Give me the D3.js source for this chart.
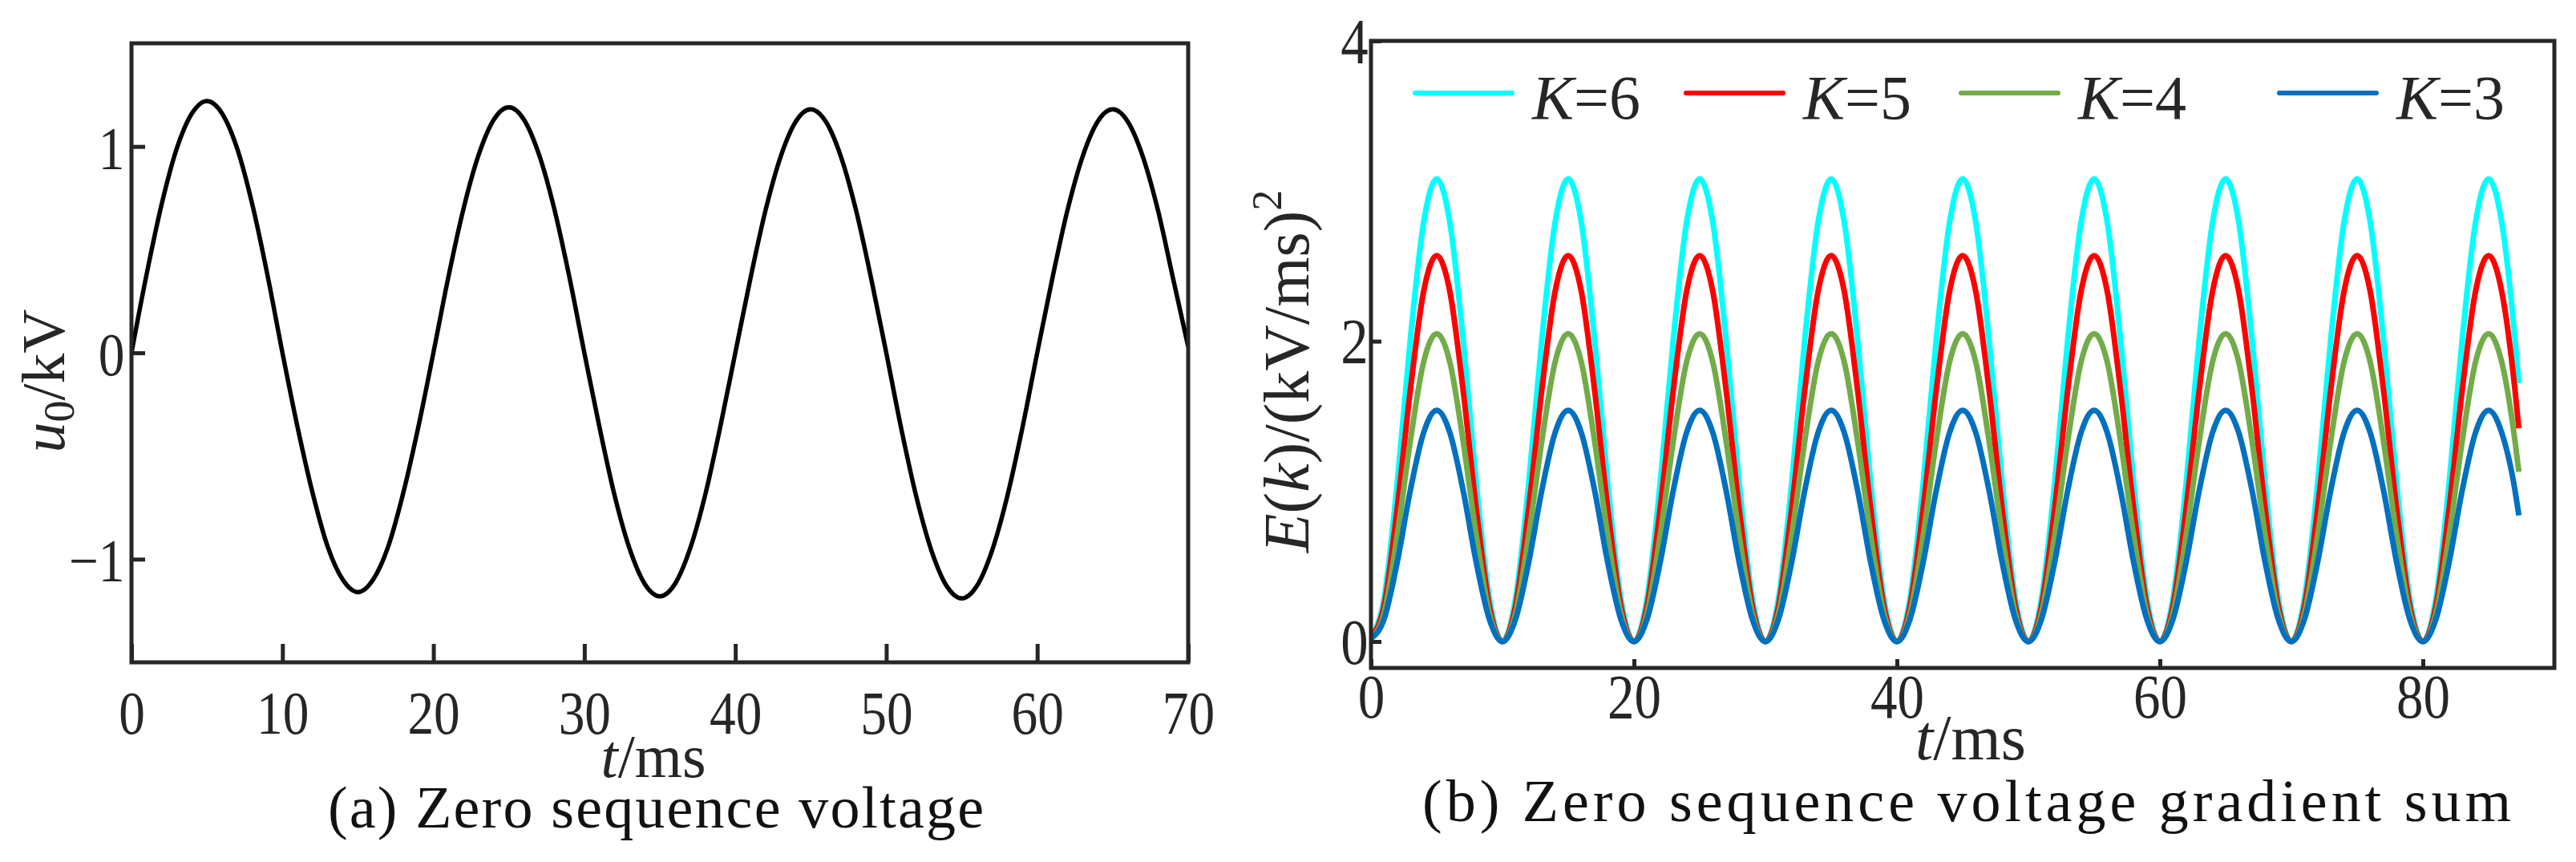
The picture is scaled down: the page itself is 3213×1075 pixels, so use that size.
<!DOCTYPE html>
<html>
<head>
<meta charset="utf-8">
<script src="https://cdn.jsdelivr.net/npm/d3@7"></script>
<style>
  body { margin: 0; background: #fff; }
  text { font-family: "Liberation Serif", "DejaVu Serif", serif; fill: #262626; }
</style>
</head>
<body>
<svg id="chart" width="3213" height="1075"></svg>
<script>
// (a) zero sequence voltage, sampled every 1 ms
var tLeft = d3.range(0, 71);
var u0 = [0, 0.38, 0.72, 0.99, 1.16, 1.22, 1.16, 0.99, 0.72, 0.38,
  0, -0.36, -0.68, -0.94, -1.10, -1.16, -1.10, -0.94, -0.68, -0.36,
  0, 0.37, 0.70, 0.96, 1.13, 1.19, 1.13, 0.96, 0.70, 0.37,
  0, -0.36, -0.69, -0.95, -1.12, -1.18, -1.12, -0.95, -0.69, -0.36,
  0, 0.36, 0.69, 0.95, 1.12, 1.18, 1.12, 0.95, 0.69, 0.36,
  0, -0.37, -0.70, -0.96, -1.13, -1.19, -1.13, -0.96, -0.70, -0.37,
  0, 0.36, 0.69, 0.95, 1.12, 1.18, 1.12, 0.95, 0.69, 0.36,
  0.03];
var leftXTicks = [0, 10, 20, 30, 40, 50, 60, 70];
var leftYTicks = [-1, 0, 1];

// (b) gradient sum E(k), sampled every 1 ms up to the last point at 87.3 ms
var tRight = d3.range(0, 88).concat([87.3]);
var eK6 = [0.03, 0.29, 1.06, 2.02, 2.79, 3.08, 2.79, 2.02, 1.06, 0.29,
  0, 0.29, 1.06, 2.02, 2.79, 3.08, 2.79, 2.02, 1.06, 0.29,
  0, 0.29, 1.06, 2.02, 2.79, 3.08, 2.79, 2.02, 1.06, 0.29,
  0, 0.29, 1.06, 2.02, 2.79, 3.08, 2.79, 2.02, 1.06, 0.29,
  0, 0.29, 1.06, 2.02, 2.79, 3.08, 2.79, 2.02, 1.06, 0.29,
  0, 0.29, 1.06, 2.02, 2.79, 3.08, 2.79, 2.02, 1.06, 0.29,
  0, 0.29, 1.06, 2.02, 2.79, 3.08, 2.79, 2.02, 1.06, 0.29,
  0, 0.29, 1.06, 2.02, 2.79, 3.08, 2.79, 2.02, 1.06, 0.29,
  0, 0.29, 1.06, 2.02, 2.79, 3.08, 2.79, 2.02, 1.72];
var eK5 = [0.03, 0.24, 0.89, 1.68, 2.33, 2.57, 2.33, 1.68, 0.89, 0.24,
  0, 0.24, 0.89, 1.68, 2.33, 2.57, 2.33, 1.68, 0.89, 0.24,
  0, 0.24, 0.89, 1.68, 2.33, 2.57, 2.33, 1.68, 0.89, 0.24,
  0, 0.24, 0.89, 1.68, 2.33, 2.57, 2.33, 1.68, 0.89, 0.24,
  0, 0.24, 0.89, 1.68, 2.33, 2.57, 2.33, 1.68, 0.89, 0.24,
  0, 0.24, 0.89, 1.68, 2.33, 2.57, 2.33, 1.68, 0.89, 0.24,
  0, 0.24, 0.89, 1.68, 2.33, 2.57, 2.33, 1.68, 0.89, 0.24,
  0, 0.24, 0.89, 1.68, 2.33, 2.57, 2.33, 1.68, 0.89, 0.24,
  0, 0.24, 0.89, 1.68, 2.33, 2.57, 2.33, 1.68, 1.42];
var eK4 = [0.02, 0.19, 0.71, 1.34, 1.86, 2.05, 1.86, 1.34, 0.71, 0.19,
  0, 0.19, 0.71, 1.34, 1.86, 2.05, 1.86, 1.34, 0.71, 0.19,
  0, 0.19, 0.71, 1.34, 1.86, 2.05, 1.86, 1.34, 0.71, 0.19,
  0, 0.19, 0.71, 1.34, 1.86, 2.05, 1.86, 1.34, 0.71, 0.19,
  0, 0.19, 0.71, 1.34, 1.86, 2.05, 1.86, 1.34, 0.71, 0.19,
  0, 0.19, 0.71, 1.34, 1.86, 2.05, 1.86, 1.34, 0.71, 0.19,
  0, 0.19, 0.71, 1.34, 1.86, 2.05, 1.86, 1.34, 0.71, 0.19,
  0, 0.19, 0.71, 1.34, 1.86, 2.05, 1.86, 1.34, 0.71, 0.19,
  0, 0.19, 0.71, 1.34, 1.86, 2.05, 1.86, 1.34, 1.13];
var eK3 = [0.02, 0.15, 0.53, 1.01, 1.39, 1.54, 1.39, 1.01, 0.53, 0.15,
  0, 0.15, 0.53, 1.01, 1.39, 1.54, 1.39, 1.01, 0.53, 0.15,
  0, 0.15, 0.53, 1.01, 1.39, 1.54, 1.39, 1.01, 0.53, 0.15,
  0, 0.15, 0.53, 1.01, 1.39, 1.54, 1.39, 1.01, 0.53, 0.15,
  0, 0.15, 0.53, 1.01, 1.39, 1.54, 1.39, 1.01, 0.53, 0.15,
  0, 0.15, 0.53, 1.01, 1.39, 1.54, 1.39, 1.01, 0.53, 0.15,
  0, 0.15, 0.53, 1.01, 1.39, 1.54, 1.39, 1.01, 0.53, 0.15,
  0, 0.15, 0.53, 1.01, 1.39, 1.54, 1.39, 1.01, 0.53, 0.15,
  0, 0.15, 0.53, 1.01, 1.39, 1.54, 1.39, 1.01, 0.84];
var seriesNames = ["6", "5", "4", "3"];
var seriesColors = ["#00ffff", "#ff0000", "#72ac48", "#0070c0"];
var rightXTicks = [0, 20, 40, 60, 80];
var rightYTicks = [0, 2, 4];

var svg = d3.select("#chart");
var axisColor = "#262626";

// tick labels in the picture are a bit narrower than plain Times
function squeezeTicks(g) {
  g.select(".domain").remove();
  g.selectAll(".tick line").attr("stroke", axisColor).attr("stroke-width", 5);
  g.selectAll(".tick text").attr("fill", axisColor).attr("transform", "scale(0.86,1)");
}

//---------------- (a) ----------------
var xa = d3.scaleLinear().domain([0, 70]).range([164, 1482]);
var ya = d3.scaleLinear().domain([-1.5, 1.5]).range([826, 54]);

var defs = svg.append("defs");
defs.append("clipPath").attr("id", "clipA")
  .append("rect").attr("x", 164).attr("y", 54).attr("width", 1318).attr("height", 772);
defs.append("clipPath").attr("id", "clipB")
  .append("rect").attr("x", 1710).attr("y", 51).attr("width", 1476).attr("height", 782);

svg.append("g")
  .attr("transform", "translate(0," + ya.range()[0] + ")")
  .style("font-size", "76px")
  .call(d3.axisBottom(xa).tickValues(leftXTicks).tickSizeInner(-23).tickSizeOuter(0))
  .call(squeezeTicks)
  .selectAll(".tick text").attr("y", 89).attr("dy", null);

svg.append("g")
  .attr("transform", "translate(" + xa.range()[0] + ",0)")
  .style("font-size", "76px")
  .call(d3.axisLeft(ya).tickValues(leftYTicks).tickSizeInner(-17).tickSizeOuter(0).tickFormat(d3.format("d")))
  .call(squeezeTicks)
  .selectAll(".tick text").attr("x", -10).attr("dy", "0.36em")
  .text(d => d < 0 ? "\u2212" + Math.abs(d) : d);

var lineA = d3.line().x((d, i) => xa(tLeft[i])).y(d => ya(d)).curve(d3.curveMonotoneX);
svg.append("path")
  .attr("d", lineA(u0))
  .attr("clip-path", "url(#clipA)")
  .attr("fill", "none").attr("stroke", "#000").attr("stroke-width", 5.5);

svg.append("rect")
  .attr("x", 164).attr("y", 54).attr("width", 1318).attr("height", 772)
  .attr("fill", "none").attr("stroke", axisColor).attr("stroke-width", 5);

// y label u0/kV
var ylA = svg.append("text")
  .attr("transform", "translate(80,475) rotate(-90)")
  .attr("text-anchor", "middle").style("font-size", "76px");
ylA.append("tspan").style("font-style", "italic").text("u");
ylA.append("tspan").attr("dy", 12).style("font-size", "54px").text("0");
ylA.append("tspan").attr("dy", -12).text("/kV");

var xlA = svg.append("text").attr("x", 815).attr("y", 969)
  .attr("text-anchor", "middle").style("font-size", "76px");
xlA.append("tspan").style("font-style", "italic").text("t");
xlA.append("tspan").text("/ms");

svg.append("text").attr("x", 409).attr("y", 1032)
  .attr("textLength", 818).attr("lengthAdjust", "spacing")
  .style("font-size", "74px").style("fill", "#111")
  .text("(a) Zero sequence voltage");

//---------------- (b) ----------------
var xb = d3.scaleLinear().domain([0, 90]).range([1710, 3186]);
var yb = d3.scaleLinear().domain([-0.176, 4]).range([833, 51]);

svg.append("g")
  .attr("transform", "translate(0," + yb.range()[0] + ")")
  .style("font-size", "78px")
  .call(d3.axisBottom(xb).tickValues(rightXTicks).tickSizeInner(-11).tickSizeOuter(0))
  .call(squeezeTicks)
  .selectAll(".tick text").attr("y", 62).attr("dy", null);

svg.append("g")
  .attr("transform", "translate(" + xb.range()[0] + ",0)")
  .style("font-size", "80px")
  .call(d3.axisLeft(yb).tickValues(rightYTicks).tickSizeInner(-13).tickSizeOuter(0).tickFormat(d3.format("d")))
  .call(squeezeTicks)
  .selectAll(".tick text").attr("x", -4).attr("dy", "0.34em");

var seriesData = [eK6, eK5, eK4, eK3];
var lineB = d3.line().x((d, i) => xb(tRight[i])).y(d => yb(d)).curve(d3.curveMonotoneX);
svg.append("g").attr("clip-path", "url(#clipB)")
  .selectAll("path").data(seriesData).join("path")
  .attr("d", d => lineB(d))
  .attr("fill", "none")
  .attr("stroke", (d, i) => seriesColors[i])
  .attr("stroke-width", 7);

svg.append("rect")
  .attr("x", 1710).attr("y", 51).attr("width", 1476).attr("height", 782)
  .attr("fill", "none").attr("stroke", axisColor).attr("stroke-width", 5);

// legend
var legendX = [1765, 2103, 2446, 2843];
var leg = svg.append("g").selectAll("g").data(seriesNames).join("g")
  .attr("transform", (d, i) => "translate(" + legendX[i] + ",116)");
leg.append("line").attr("x1", 0).attr("x2", 121)
  .attr("stroke", (d, i) => seriesColors[i]).attr("stroke-width", 6).attr("stroke-linecap", "round");
var legText = leg.append("text").attr("x", 146).attr("y", 32).style("font-size", "78px");
legText.append("tspan").style("font-style", "italic").text("K");
legText.append("tspan").text(d => "=" + d);

// y label E(k)/(kV/ms)^2
var ylB = svg.append("text")
  .attr("transform", "translate(1632,463) rotate(-90)")
  .attr("text-anchor", "middle").style("font-size", "80px");
ylB.append("tspan").style("font-style", "italic").text("E");
ylB.append("tspan").text("(");
ylB.append("tspan").style("font-style", "italic").text("k");
ylB.append("tspan").text(")/(kV/ms)");
ylB.append("tspan").attr("dy", -34).style("font-size", "52px").text("2");

var xlB = svg.append("text").attr("x", 2458).attr("y", 947)
  .attr("text-anchor", "middle").style("font-size", "80px");
xlB.append("tspan").style("font-style", "italic").text("t");
xlB.append("tspan").text("/ms");

svg.append("text").attr("x", 1774).attr("y", 1024)
  .attr("textLength", 1358).attr("lengthAdjust", "spacing")
  .style("font-size", "74px").style("fill", "#111")
  .text("(b) Zero sequence voltage gradient sum");
</script>
</body>
</html>
